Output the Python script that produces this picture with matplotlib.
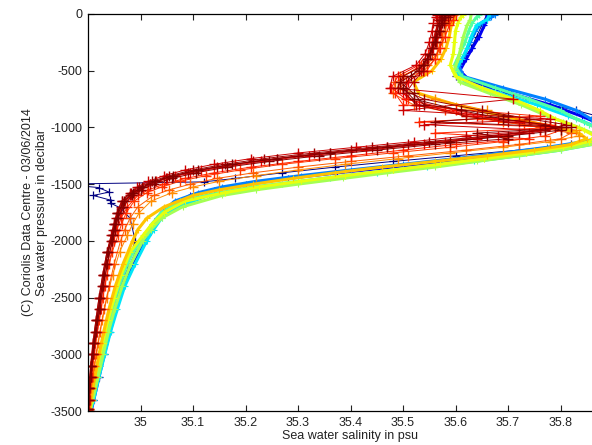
import matplotlib
matplotlib.use("Agg")
import matplotlib.pyplot as plt

# pressure grids (decibar), two staggered sampling schemes
pres_a = [0, -50, -100, -200, -300, -400, -500, -600, -700, -800,
          -900, -950, -1000, -1050, -1100, -1150, -1200,
          -1250, -1300, -1350, -1400, -1450, -1500, -1550, -1600,
          -1700, -1800, -1900, -2000, -2200, -2400, -2600, -2800, -3000, -3200, -3400, -3500]
pres_b = [-5, -30, -75, -150, -250, -350, -450, -550, -650, -750,
          -850, -925, -975, -1025, -1075, -1125, -1175,
          -1225, -1275, -1325, -1375, -1425, -1475, -1525, -1575,
          -1650, -1750, -1850, -1950, -2100, -2300, -2500, -2700, -2900, -3100, -3300, -3480]

# oldest profile, with the bad values near 1500 dbar
pres_navy = [0, -100, -200, -300, -400, -500, -550, -600, -650, -700, -750, -800, -850,
             -900, -950, -1000, -1050, -1100, -1150, -1200, -1250, -1300, -1350, -1400,
             -1450, -1480, -1500, -1530, -1570, -1600, -1640, -1670, -1710, -1800, -2000,
             -2200, -2400, -2600, -2800, -3000, -3200, -3400, -3500]
sal_navy = [35.660, 35.650, 35.640, 35.630, 35.615, 35.605, 35.600, 35.635, 35.670, 35.700,
            35.740, 35.780, 35.830, 35.870, 35.910, 35.940, 35.930, 35.890, 35.820, 35.720,
            35.600, 35.480, 35.370, 35.270, 35.180, 35.120, 34.850, 34.920, 34.940, 34.910,
            34.942, 34.944, 34.962, 34.980, 34.990, 34.975, 34.960, 34.950, 34.940, 34.930,
            34.920, 34.910, 34.905]

sal_p01 = [35.660, 35.660, 35.655, 35.645, 35.632, 35.620, 35.608, 35.630, 35.705, 35.780,
           35.840, 35.865, 35.885, 35.895, 35.885, 35.830, 35.755,
           35.670, 35.580, 35.480, 35.375, 35.280, 35.200, 35.140, 35.095,
           35.055, 35.032, 35.020, 35.010, 34.988, 34.968, 34.954, 34.942, 34.931, 34.921, 34.911, 34.906]
sal_p02 = [35.675, 35.668, 35.650, 35.638, 35.628, 35.618, 35.606, 35.615, 35.690, 35.770,
           35.830, 35.858, 35.880, 35.892, 35.888, 35.845, 35.775,
           35.690, 35.600, 35.500, 35.400, 35.305, 35.220, 35.155, 35.110,
           35.065, 35.040, 35.025, 35.015, 34.992, 34.972, 34.957, 34.944, 34.933, 34.922, 34.912, 34.906]
sal_p03 = [35.665, 35.660, 35.640, 35.630, 35.622, 35.612, 35.600, 35.618, 35.685, 35.755,
           35.815, 35.845, 35.870, 35.885, 35.890, 35.860, 35.800,
           35.720, 35.635, 35.545, 35.450, 35.360, 35.270, 35.190, 35.130,
           35.070, 35.040, 35.025, 35.012, 34.990, 34.970, 34.956, 34.943, 34.932, 34.921, 34.911, 34.905]
sal_p04 = [35.645, 35.640, 35.632, 35.625, 35.618, 35.608, 35.598, 35.612, 35.675, 35.740,
           35.800, 35.830, 35.855, 35.875, 35.885, 35.865, 35.810,
           35.735, 35.655, 35.570, 35.480, 35.390, 35.300, 35.215, 35.150,
           35.075, 35.040, 35.022, 35.008, 34.985, 34.966, 34.952, 34.940, 34.930, 34.920, 34.910, 34.905]
sal_p05 = [35.630, 35.628, 35.622, 35.615, 35.610, 35.605, 35.597, 35.608, 35.665, 35.725,
           35.775, 35.805, 35.835, 35.860, 35.878, 35.860, 35.800,
           35.720, 35.640, 35.560, 35.470, 35.385, 35.300, 35.220, 35.155,
           35.080, 35.040, 35.020, 35.004, 34.982, 34.965, 34.951, 34.939, 34.929, 34.919, 34.909, 34.904]
sal_p06 = [35.615, 35.610, 35.605, 35.600, 35.598, 35.596, 35.590, 35.600, 35.650, 35.710,
           35.760, 35.790, 35.820, 35.845, 35.865, 35.855, 35.805,
           35.735, 35.655, 35.570, 35.480, 35.390, 35.305, 35.225, 35.160,
           35.085, 35.045, 35.022, 35.005, 34.980, 34.963, 34.950, 34.938, 34.928, 34.918, 34.908, 34.904]
sal_p07 = [35.600, 35.598, 35.592, 35.588, 35.582, 35.572, 35.555, 35.520, 35.530, 35.600,
           35.690, 35.740, 35.790, 35.835, 35.850, 35.820, 35.750,
           35.660, 35.560, 35.460, 35.370, 35.290, 35.215, 35.150, 35.100,
           35.045, 35.012, 34.995, 34.985, 34.967, 34.952, 34.940, 34.930, 34.921, 34.913, 34.906, 34.903]
sal_p08 = [35.595, 35.590, 35.585, 35.580, 35.575, 35.565, 35.545, 35.495, 35.490, 35.560,
           35.660, 35.720, 35.780, 35.830, 35.835, 35.780, 35.690,
           35.590, 35.490, 35.390, 35.300, 35.220, 35.150, 35.100, 35.060,
           35.020, 34.998, 34.985, 34.975, 34.960, 34.947, 34.936, 34.927, 34.919, 34.912, 34.905, 34.902]
sal_p09 = [35.590, 35.585, 35.580, 35.575, 35.568, 35.560, 35.540, 35.485, 35.480, 35.520,
           35.620, 35.690, 35.760, 35.820, 35.800, 35.720, 35.620,
           35.510, 35.400, 35.300, 35.215, 35.145, 35.095, 35.055, 35.025,
           34.995, 34.980, 34.970, 34.962, 34.950, 34.940, 34.931, 34.923, 34.916, 34.909, 34.904, 34.901]
sal_p10 = [35.585, 35.580, 35.578, 35.572, 35.565, 35.555, 35.535, 35.500, 35.495, 35.510,
           35.580, 35.650, 35.730, 35.800, 35.770, 35.690, 35.590,
           35.480, 35.370, 35.270, 35.190, 35.125, 35.075, 35.040, 35.012,
           34.988, 34.973, 34.964, 34.957, 34.946, 34.936, 34.928, 34.921, 34.914, 34.908, 34.903, 34.901]
sal_p11 = [35.600, 35.595, 35.588, 35.580, 35.570, 35.560, 35.545, 35.505, 35.485, 35.500,
           35.760, 35.530, 35.790, 35.560, 35.740, 35.600, 35.500,
           35.400, 35.300, 35.210, 35.140, 35.085, 35.045, 35.015, 34.995,
           34.975, 34.963, 34.955, 34.949, 34.940, 34.932, 34.925, 34.918, 34.912, 34.907, 34.903, 34.901]
sal_p12 = [35.575, 35.572, 35.568, 35.562, 35.556, 35.548, 35.530, 35.490, 35.478, 35.505,
           35.600, 35.680, 35.780, 35.760, 35.680, 35.580, 35.470,
           35.360, 35.260, 35.180, 35.115, 35.065, 35.030, 35.005, 34.988,
           34.970, 34.960, 34.953, 34.947, 34.938, 34.930, 34.923, 34.917, 34.911, 34.906, 34.902, 34.900]
sal_p13 = [35.580, 35.578, 35.572, 35.565, 35.558, 35.548, 35.535, 35.510, 35.500, 35.530,
           35.640, 35.720, 35.800, 35.740, 35.640, 35.540, 35.430,
           35.320, 35.230, 35.155, 35.095, 35.050, 35.018, 34.996, 34.982,
           34.966, 34.957, 34.951, 34.946, 34.937, 34.929, 34.922, 34.916, 34.910, 34.905, 34.902, 34.900]
sal_p14 = [35.565, 35.562, 35.558, 35.555, 35.550, 35.542, 35.525, 35.480, 35.475, 35.710,
           35.500, 35.780, 35.540, 35.760, 35.620, 35.520, 35.410,
           35.300, 35.210, 35.140, 35.085, 35.045, 35.015, 34.994, 34.980,
           34.964, 34.955, 34.949, 34.944, 34.936, 34.928, 34.921, 34.915, 34.909, 34.905, 34.902, 34.900]
sal_p15 = [35.570, 35.568, 35.565, 35.560, 35.555, 35.548, 35.538, 35.520, 35.505, 35.525,
           35.620, 35.700, 35.790, 35.720, 35.620, 35.510, 35.400,
           35.300, 35.215, 35.145, 35.090, 35.048, 35.018, 34.996, 34.980,
           34.963, 34.954, 34.948, 34.943, 34.934, 34.927, 34.920, 34.914, 34.909, 34.905, 34.902, 34.900]
sal_p16 = [35.590, 35.585, 35.578, 35.570, 35.562, 35.552, 35.540, 35.500, 35.490, 35.540,
           35.650, 35.740, 35.810, 35.770, 35.660, 35.550, 35.440,
           35.330, 35.235, 35.160, 35.100, 35.055, 35.022, 34.998, 34.982,
           34.965, 34.956, 34.950, 34.945, 34.936, 34.928, 34.921, 34.915, 34.910, 34.905, 34.902, 34.900]
sal_p17 = [35.575, 35.572, 35.568, 35.562, 35.555, 35.545, 35.530, 35.495, 35.520, 35.540,
           35.700, 35.560, 35.820, 35.640, 35.700, 35.560, 35.450,
           35.340, 35.245, 35.165, 35.105, 35.060, 35.025, 35.000, 34.984,
           34.967, 34.957, 34.951, 34.946, 34.937, 34.929, 34.922, 34.916, 34.910, 34.906, 34.902, 34.900]
sal_p18 = [35.580, 35.578, 35.575, 35.568, 35.560, 35.552, 35.538, 35.515, 35.500, 35.520,
           35.610, 35.690, 35.770, 35.800, 35.700, 35.590, 35.470,
           35.360, 35.260, 35.175, 35.110, 35.062, 35.028, 35.003, 34.986,
           34.968, 34.958, 34.952, 34.947, 34.938, 34.930, 34.923, 34.917, 34.911, 34.906, 34.902, 34.900]

# position of each profile in time (0 = first cycle, 1 = last), used for jet colour
cycle_pos = [0.10, 0.25, 0.35, 0.45, 0.55, 0.63, 0.70, 0.76, 0.81,
             0.85, 0.87, 0.89, 0.91, 0.93, 0.95, 0.97, 0.99, 1.00]
profiles = [sal_p01, sal_p02, sal_p03, sal_p04, sal_p05, sal_p06, sal_p07, sal_p08, sal_p09,
            sal_p10, sal_p11, sal_p12, sal_p13, sal_p14, sal_p15, sal_p16, sal_p17, sal_p18]

xticks = [35, 35.1, 35.2, 35.3, 35.4, 35.5, 35.6, 35.7, 35.8]
yticks = [0, -500, -1000, -1500, -2000, -2500, -3000, -3500]

plt.rcParams['font.family'] = ['Liberation Sans', 'DejaVu Sans']
plt.rcParams['axes.unicode_minus'] = False

fig = plt.figure(figsize=(5.92, 4.45), dpi=100)
# axes run to 35.9 psu, past the right edge of the picture
ax = fig.add_axes([88 / 592, 34 / 445, 525 / 592, 397 / 445])

jet = matplotlib.colormaps['jet']

ax.plot(sal_navy, pres_navy, '-+', color=jet(0.0), lw=0.7, ms=6, mew=0.9)

for i, (sal, c) in enumerate(zip(profiles, cycle_pos)):
    pres = pres_a if i % 2 == 0 else pres_b
    col = jet(c)
    if c < 0.72:
        # older profiles: finer sampling, looks like a smear of small marks
        ax.plot(sal, pres, '-+', color=col, lw=2.2, ms=4, mew=0.8)
    else:
        ax.plot(sal, pres, '-+', color=col, lw=0.7, ms=7, mew=1.0)

ax.set_xlim(34.9, 35.9)
ax.set_ylim(-3500, 0)
ax.set_xticks(xticks)
ax.set_xticklabels([f"{t:g}" for t in xticks])
ax.set_yticks(yticks)
ax.tick_params(direction='in', top=True, right=True, length=4, width=0.8,
               labelsize=9, colors='#222222', pad=4)
for s in ax.spines.values():
    s.set_linewidth(0.9)

ax.set_xlabel("Sea water salinity in psu", fontsize=9, labelpad=1, color='#222222')
ax.set_ylabel("(C) Coriolis Data Centre - 03/06/2014\nSea water pressure in decibar",
              fontsize=9, labelpad=2, color='#222222')

fig.savefig("out.png", dpi=100)
